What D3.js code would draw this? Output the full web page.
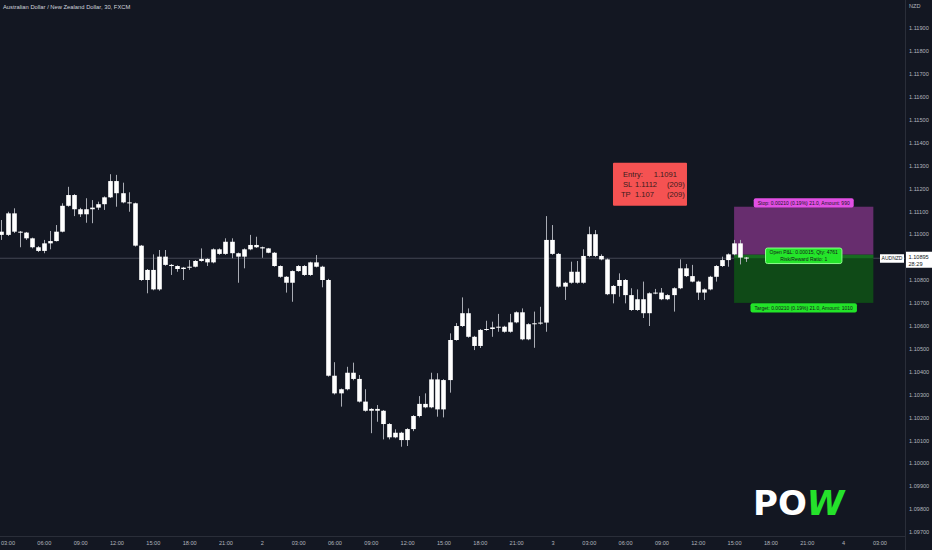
<!DOCTYPE html>
<html><head><meta charset="utf-8">
<script src="https://cdn.jsdelivr.net/npm/d3@7"></script>
<style>
html,body{margin:0;padding:0;background:#131722;overflow:hidden;}
svg{display:block;font-family:"Liberation Sans",Arial,sans-serif;}
</style></head><body>
<svg id="c" width="932" height="550"></svg>
<script>
// ---------------- data ----------------
const title = "Australian Dollar / New Zealand Dollar, 30, FXCM";
const currency = "NZD";
const symbol = "AUDNZD";
const firstBarTime = Date.UTC(2023, 7, 1, 2, 30);   // day 1, 02:30
const barMinutes = 30;
const axisStart = Date.UTC(2023, 7, 1, 3, 0);
const axisEnd = Date.UTC(2023, 7, 4, 3, 0);

const open = [1.11011,1.10997,1.11091,1.11011,1.11007,1.10982,1.10943,1.10927,1.10960,1.10970,
1.11011,1.11124,1.11171,1.11109,1.11087,1.11109,1.11116,1.11131,1.11161,1.11232,
1.11179,1.11139,1.11135,1.10950,1.10800,1.10844,1.10759,1.10902,1.10866,1.10861,
1.10848,1.10854,1.10858,1.10883,1.10892,1.10877,1.10934,1.10914,1.10967,1.10917,
1.10902,1.10934,1.10953,1.10943,1.10938,1.10919,1.10861,1.10814,1.10788,1.10839,
1.10861,1.10822,1.10877,1.10858,1.10800,1.10382,1.10305,1.10323,1.10395,1.10368,
1.10269,1.10229,1.10237,1.10229,1.10171,1.10113,1.10133,1.10101,1.10149,1.10206,
1.10259,1.10244,1.10366,1.10235,1.10363,1.10538,1.10599,1.10655,1.10552,1.10512,
1.10582,1.10586,1.10593,1.10596,1.10574,1.10615,1.10659,1.10541,1.10607,1.10611,
1.10614,1.10975,1.10914,1.10771,1.10788,1.10836,1.10788,1.10905,1.11000,1.10905,
1.10890,1.10738,1.10774,1.10800,1.10734,1.10669,1.10716,1.10655,1.10742,1.10745,
1.10716,1.10734,1.10764,1.10851,1.10817,1.10793,1.10745,1.10759,1.10814,1.10861,
1.10887,1.10912,1.10960,1.10898];
const high = [1.11062,1.11098,1.11113,1.11014,1.11010,1.10985,1.10948,1.10975,1.11014,1.11040,
1.11135,1.11207,1.11175,1.11115,1.11157,1.11149,1.11142,1.11165,1.11262,1.11259,
1.11225,1.11183,1.11138,1.10953,1.10848,1.10912,1.10931,1.10931,1.10870,1.10864,
1.10857,1.10887,1.10887,1.10938,1.10895,1.10938,1.10938,1.10982,1.10982,1.10920,
1.10938,1.10997,1.10989,1.10946,1.10940,1.10922,1.10864,1.10817,1.10842,1.10865,
1.10865,1.10880,1.10909,1.10862,1.10805,1.10441,1.10326,1.10421,1.10439,1.10385,
1.10323,1.10240,1.10254,1.10232,1.10175,1.10148,1.10137,1.10153,1.10210,1.10293,
1.10305,1.10395,1.10393,1.10367,1.10567,1.10612,1.10724,1.10676,1.10556,1.10586,
1.10622,1.10618,1.10652,1.10600,1.10652,1.10663,1.10676,1.10611,1.10662,1.10683,
1.11079,1.11040,1.10918,1.10792,1.10880,1.10883,1.10934,1.11033,1.11018,1.10912,
1.10894,1.10778,1.10829,1.10804,1.10764,1.10759,1.10793,1.10746,1.10761,1.10765,
1.10738,1.10768,1.10890,1.10870,1.10866,1.10797,1.10763,1.10818,1.10865,1.10902,
1.10916,1.10975,1.10975,1.10900];
const low = [1.10975,1.10992,1.11005,1.10943,1.10975,1.10938,1.10922,1.10917,1.10934,1.10968,
1.11008,1.11120,1.11079,1.11075,1.11050,1.11048,1.11106,1.11106,1.11158,1.11120,
1.11135,1.11098,1.10946,1.10796,1.10742,1.10755,1.10753,1.10862,1.10822,1.10836,
1.10800,1.10844,1.10855,1.10880,1.10861,1.10873,1.10910,1.10910,1.10895,1.10788,
1.10851,1.10930,1.10940,1.10897,1.10917,1.10858,1.10810,1.10745,1.10705,1.10836,
1.10818,1.10818,1.10855,1.10768,1.10378,1.10300,1.10247,1.10318,1.10362,1.10265,
1.10225,1.10131,1.10181,1.10104,1.10104,1.10109,1.10072,1.10075,1.10140,1.10200,
1.10240,1.10240,1.10203,1.10200,1.10308,1.10535,1.10595,1.10548,1.10494,1.10503,
1.10578,1.10552,1.10574,1.10570,1.10570,1.10611,1.10537,1.10537,1.10504,1.10605,
1.10574,1.10910,1.10767,1.10713,1.10784,1.10784,1.10784,1.10900,1.10900,1.10886,
1.10734,1.10698,1.10727,1.10698,1.10665,1.10665,1.10634,1.10599,1.10738,1.10712,
1.10712,1.10662,1.10760,1.10813,1.10790,1.10713,1.10713,1.10755,1.10793,1.10857,
1.10858,1.10908,1.10868,1.10879];
const close = [1.10997,1.11091,1.11011,1.11007,1.10982,1.10943,1.10927,1.10960,1.10970,1.11011,
1.11124,1.11171,1.11109,1.11087,1.11109,1.11116,1.11131,1.11161,1.11232,1.11179,
1.11139,1.11135,1.10950,1.10800,1.10844,1.10759,1.10902,1.10866,1.10861,1.10848,
1.10854,1.10858,1.10883,1.10892,1.10877,1.10934,1.10914,1.10967,1.10917,1.10902,
1.10934,1.10953,1.10943,1.10938,1.10919,1.10861,1.10814,1.10788,1.10839,1.10861,
1.10822,1.10877,1.10858,1.10800,1.10382,1.10305,1.10323,1.10395,1.10368,1.10269,
1.10229,1.10237,1.10229,1.10171,1.10113,1.10133,1.10101,1.10149,1.10206,1.10259,
1.10244,1.10366,1.10235,1.10363,1.10538,1.10599,1.10655,1.10552,1.10512,1.10582,
1.10586,1.10593,1.10596,1.10574,1.10615,1.10659,1.10541,1.10607,1.10611,1.10614,
1.10975,1.10914,1.10771,1.10788,1.10836,1.10788,1.10905,1.11000,1.10905,1.10890,
1.10738,1.10774,1.10800,1.10734,1.10669,1.10716,1.10655,1.10742,1.10745,1.10716,
1.10734,1.10764,1.10851,1.10817,1.10793,1.10745,1.10759,1.10814,1.10861,1.10887,
1.10912,1.10960,1.10898,1.10895];

const priceMin = 1.097, priceMax = 1.119;
const lastPrice = 1.10895;
const countdown = "28:29";

// position tool (short)
const entryPrice = 1.1091, stopPrice = 1.1112, targetPrice = 1.107;
const positionStartBar = 121;
const positionEndTime = Date.UTC(2023, 7, 4, 2, 30);
const stopLabel = "Stop: 0.00210 (0.19%) 21.0, Amount: 990";
const pnlLines = ["Open P&L: 0.00015, Qty: 4761", "Risk/Reward Ratio: 1"];
const targetLabel = "Target: 0.00210 (0.19%) 21.0, Amount: 1010";

// info note
const noteBar = 101, notePrice = 1.11312;
const noteRows = [["Entry:", "1.1091", ""], ["SL", "1.1112", "(209)"], ["TP", "1.107", "(209)"]];

const logoWhite = "PO", logoGreen = "W";

// ---------------- drawing ----------------
const W = 932, H = 550, axisX = 905, axisY = 536;
const svg = d3.select("#c");
svg.append("rect").attr("width", W).attr("height", H).attr("fill", "#131722");

const bars = open.map((o, i) => ({
  t: new Date(firstBarTime + i * barMinutes * 60000),
  o, h: high[i], l: low[i], c: close[i]
}));

const x = d3.scaleUtc().domain([axisStart, axisEnd]).range([7.5, 879.4]);
const y = d3.scaleLinear().domain([priceMin, priceMax]).range([531.9, 28.1]);
const step = x(new Date(axisStart + barMinutes * 60000)) - x(new Date(axisStart));
const bodyW = step * 0.76;

// axes separators
svg.append("line").attr("x1", axisX + 0.5).attr("x2", axisX + 0.5).attr("y1", 0).attr("y2", H)
  .attr("stroke", "#2a2e39");
svg.append("line").attr("x1", 0).attr("x2", axisX).attr("y1", axisY + 0.5).attr("y2", axisY + 0.5)
  .attr("stroke", "#2a2e39");

const plot = svg.append("g");

// last price line
plot.append("line").attr("x1", 0).attr("x2", axisX).attr("y1", y(lastPrice)).attr("y2", y(lastPrice))
  .attr("stroke", "#434753").attr("stroke-width", 1);

// position tool
const pL = x(bars[positionStartBar].t), pR = x(new Date(positionEndTime));
const pos = plot.append("g");
pos.append("rect").attr("x", pL).attr("width", pR - pL)
  .attr("y", y(stopPrice)).attr("height", y(entryPrice) - y(stopPrice)).attr("fill", "#672d6e");
pos.append("rect").attr("x", pL).attr("width", pR - pL)
  .attr("y", y(entryPrice)).attr("height", y(targetPrice) - y(entryPrice)).attr("fill", "#0f4a17");
pos.append("rect").attr("x", pL).attr("width", pR - pL)
  .attr("y", y(entryPrice)).attr("height", y(lastPrice) - y(entryPrice)).attr("fill", "#176b20");

// candles
const cg = plot.append("g");
cg.selectAll("line.w").data(bars).join("line").attr("class", "w")
  .attr("x1", d => Math.round(x(d.t)) + 0.5).attr("x2", d => Math.round(x(d.t)) + 0.5)
  .attr("y1", d => y(d.h)).attr("y2", d => y(d.l))
  .attr("stroke", "#a9acb4").attr("stroke-width", 1);
cg.selectAll("rect.b").data(bars).join("rect").attr("class", "b")
  .attr("x", d => Math.round(x(d.t)) + 0.5 - bodyW / 2).attr("width", bodyW)
  .attr("y", d => y(Math.max(d.o, d.c)))
  .attr("height", d => Math.max(1, Math.abs(y(d.o) - y(d.c))))
  .attr("fill", "#ffffff");

// position labels
function pill(g, cx, cy, lines, fill, stroke, fs) {
  const grp = g.append("g");
  const texts = lines.map((s, i) => grp.append("text").text(s)
    .attr("x", cx).attr("y", cy + (i - (lines.length - 1) / 2) * (fs * 1.25))
    .attr("dy", "0.35em").attr("text-anchor", "middle")
    .attr("font-size", fs).attr("fill", "#16181c"));
  const wMax = d3.max(texts, t => t.node().getComputedTextLength());
  const h = lines.length * fs * 1.25 + 3;
  grp.insert("rect", "text").attr("x", cx - wMax / 2 - 4).attr("y", cy - h / 2)
    .attr("width", wMax + 8).attr("height", h).attr("rx", 2)
    .attr("fill", fill).attr("stroke", stroke || "none").attr("stroke-width", 1);
}
const pc = (pL + pR) / 2;
pill(pos, pc, y(stopPrice) - 3.8, [stopLabel], "#e24fe4", null, 5);
pill(pos, pc, y(entryPrice) + 1, pnlLines, "#24e52a", "#8cff8c", 5);
pill(pos, pc, y(targetPrice) + 5, [targetLabel], "#22e428", null, 5);

// info note
const nL = x(bars[noteBar].t), nT = y(notePrice);
const note = plot.append("g");
note.append("rect").attr("x", nL).attr("y", nT).attr("width", 74).attr("height", 43)
  .attr("rx", 1).attr("fill", "#f55252");
const nfs = 7.6, ncol = "#3a1c1c";
noteRows.forEach((r, i) => {
  const ty = nT + 12 + i * 9.6;
  note.append("text").text(r[0]).attr("x", nL + (i === 2 ? 8 : 10)).attr("y", ty).attr("dy", "0.35em")
    .attr("font-size", nfs).attr("fill", ncol);
  note.append("text").text(r[1]).attr("x", i === 0 ? nL + 64 : nL + 22).attr("y", ty).attr("dy", "0.35em")
    .attr("text-anchor", i === 0 ? "end" : "start").attr("font-size", nfs).attr("fill", ncol);
  if (r[2]) note.append("text").text(r[2]).attr("x", nL + 54).attr("y", ty).attr("dy", "0.35em")
    .attr("font-size", nfs).attr("fill", ncol);
});

// y axis
const yTicks = d3.range(Math.round(priceMin * 1000), Math.round(priceMax * 1000) + 1).map(v => v / 1000);
const yAxis = svg.append("g").attr("transform", `translate(${axisX},0)`)
  .call(d3.axisRight(y).tickValues(yTicks).tickSize(0).tickPadding(4).tickFormat(d3.format(".5f")));
yAxis.select(".domain").remove();
yAxis.selectAll("text").attr("fill", "#b2b5be").attr("font-size", 5.6).attr("font-family", "Liberation Sans, Arial");

// x axis
const xTicks = d3.utcHour.every(3).range(new Date(axisStart), new Date(axisEnd + 1));
const fDay = d3.utcFormat("%-d"), fHour = d3.utcFormat("%H:%M");
const xAxis = svg.append("g").attr("transform", `translate(0,${axisY})`)
  .call(d3.axisBottom(x).tickValues(xTicks).tickSize(0).tickPadding(5.5)
    .tickFormat(d => d.getUTCHours() === 0 ? fDay(d) : fHour(d)));
xAxis.select(".domain").remove();
xAxis.selectAll("text").attr("fill", "#b2b5be").attr("font-size", 5.6).attr("font-family", "Liberation Sans, Arial");

// currency
svg.append("text").text(currency).attr("x", 909).attr("y", 8).attr("font-size", 5.6).attr("fill", "#b2b5be");

// symbol + last price labels
const ly = y(lastPrice);
svg.append("rect").attr("x", 880).attr("y", ly - 4).attr("width", 24).attr("height", 8.5).attr("fill", "#ffffff");
svg.append("text").text(symbol).attr("x", 892).attr("y", ly + 0.3).attr("dy", "0.35em")
  .attr("text-anchor", "middle").attr("font-size", 5).attr("fill", "#131722");
svg.append("rect").attr("x", 906).attr("y", ly - 6.5).attr("width", 26).attr("height", 16).attr("fill", "#ffffff");
svg.append("text").text(d3.format(".5f")(lastPrice)).attr("x", 908.5).attr("y", ly + 0.5).attr("dy", "0.1em")
  .attr("font-size", 5.6).attr("fill", "#131722");
svg.append("text").text(countdown).attr("x", 908.5).attr("y", ly + 7.5).attr("dy", "0.1em")
  .attr("font-size", 5.6).attr("fill", "#131722");

// title
svg.append("text").text(title).attr("x", 3).attr("y", 9).attr("font-size", 5.8).attr("fill", "#d1d4dc");

// logo
const logo = svg.append("text").attr("x", 753).attr("y", 515)
  .attr("font-family", "DejaVu Sans, sans-serif").attr("font-weight", "bold").attr("font-size", 34);
logo.append("tspan").text(logoWhite).attr("fill", "#ffffff");
logo.append("tspan").text(logoGreen).attr("fill", "#25e22b").attr("font-style", "italic");
</script>
</body></html>
